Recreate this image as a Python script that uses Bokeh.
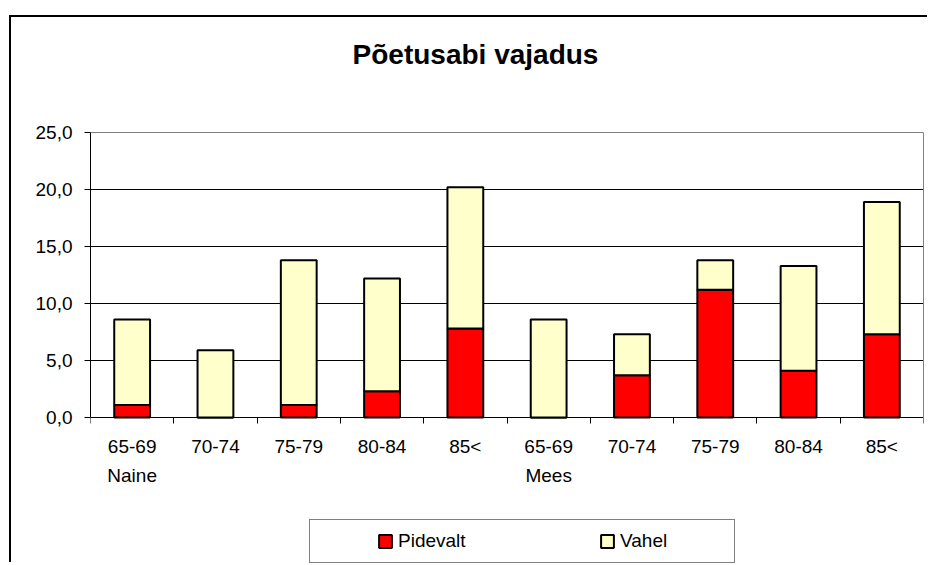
from bokeh.plotting import figure
from bokeh.models import (ColumnDataSource, Range1d, LinearAxis, FixedTicker, Grid,
                          CustomJSTickFormatter, Legend, LegendItem, Label)
from bokeh.core.properties import value
from bokeh.embed import file_html
from bokeh.resources import INLINE

# ---- data ----
title_text = "Põetusabi vajadus"
groups = ["Naine", "Mees"]
ages = ["65-69", "70-74", "75-79", "80-84", "85<"]
series = ["Pidevalt", "Vahel"]
pidevalt = [1.1, 0.0, 1.1, 2.3, 7.8, 0.0, 3.7, 11.2, 4.1, 7.3]
vahel = [7.5, 5.9, 12.7, 9.9, 12.4, 8.6, 3.6, 2.6, 9.2, 11.6]
y_ticks = [0, 5, 10, 15, 20, 25]
colors = ["#FF0000", "#FFFFCC"]

FONT = "Liberation Sans"

age_labels = [a for g in groups for a in ages]
grp_labels = [(g if a == ages[0] else "") for g in groups for a in ages]
n = len(age_labels)
xs = [i + 0.5 for i in range(n)]          # category centres on a linear scale
y_max = y_ticks[-1]

# layout (pixels)
W, H = 918, 547
MB_TOP, MB_BOT, MB_LEFT, MB_RIGHT = 20, 0, 79, 6
PX_PER_UNIT = 285 / y_max                  # plot area 285 px tall
ZERO_FROM_BOTTOM = 147                      # px from frame bottom to value 0
frame_h = H - MB_TOP - MB_BOT
y_start = -ZERO_FROM_BOTTOM / PX_PER_UNIT
y_end = (frame_h - ZERO_FROM_BOTTOM) / PX_PER_UNIT

source = ColumnDataSource(dict(x=xs, pidevalt=pidevalt, vahel=vahel,
                               age=age_labels, grp=grp_labels, zero=[0] * n))

p = figure(width=W, height=H, output_backend="svg", toolbar_location=None, tools="",
           x_range=Range1d(0, n), y_range=Range1d(y_start, y_end),
           x_axis_location=None,
           min_border_left=MB_LEFT, min_border_right=MB_RIGHT,
           min_border_top=MB_TOP, min_border_bottom=MB_BOT)
p.margin = (17, 0, 0, 11)
p.styles = {"box-shadow": "-2px -2px 0 0 #000000"}
p.background_fill_color = "white"
p.border_fill_color = "white"
p.outline_line_color = None

# grid: black inner lines, grey plot-area border at top
p.xgrid.visible = False
p.ygrid.ticker = FixedTicker(ticks=y_ticks[1:-1])
p.ygrid.grid_line_color = "black"
p.ygrid.grid_line_width = 1
top_grid = Grid(dimension=1, ticker=FixedTicker(ticks=[y_max]), grid_line_color="#808080")
p.add_layout(top_grid)

# y axis
yax = p.yaxis[0]
yax.bounds = (0, y_max)
yax.ticker = FixedTicker(ticks=y_ticks)
yax.formatter = CustomJSTickFormatter(code="return tick.toFixed(1).replace('.', ',');")
yax.major_label_text_font = FONT
yax.major_label_text_font_size = "19px"
yax.major_label_text_color = "black"
yax.axis_line_color = "black"
yax.major_tick_line_color = "black"
yax.major_tick_out = 6
yax.major_tick_in = 0
yax.minor_tick_out = 0
yax.minor_tick_in = 0
yax.major_label_standoff = 12

# grey right border of the plot area
right_ax = LinearAxis(bounds=(0, y_max), ticker=FixedTicker(ticks=[]),
                      axis_line_color="#808080", major_tick_out=0, major_tick_in=0,
                      minor_tick_out=0, minor_tick_in=0,
                      major_label_text_font_size="1px", major_label_standoff=0)
p.add_layout(right_ax, "right")

# x axis line with boundary ticks, drawn at value 0
tick_ax = LinearAxis(ticker=FixedTicker(ticks=list(range(n + 1))), fixed_location=0,
                     major_tick_out=0, major_tick_in=6, minor_tick_out=0, minor_tick_in=0,
                     axis_line_color="black", major_tick_line_color="black",
                     major_label_text_font_size="1px", major_label_text_alpha=0,
                     major_label_standoff=0)
p.add_layout(tick_ax, "above")

# bars
rs = p.vbar_stack(["pidevalt", "vahel"], x="x", width=0.43, source=source,
                  fill_color=colors, line_color="black", line_width=2)

# category labels (two rows) under the axis
p.text(x="x", y="zero", text="age", source=source, y_offset=29,
       text_font=value(FONT), text_font_size="19px", text_color="black",
       text_align="center", text_baseline="middle")
p.text(x="x", y="zero", text="grp", source=source, y_offset=58,
       text_font=value(FONT), text_font_size="19px", text_color="black",
       text_align="center", text_baseline="middle")

# title (screen units from the frame's bottom-left)
p.title.visible = False
title = Label(x=385, y=510, x_units="screen", y_units="screen",
              text=title_text, text_font=FONT, text_font_size="28px",
              text_font_style="bold", text_color="black",
              text_align="center", text_baseline="middle")
p.add_layout(title)

# legend; blank left title gives the left inset inside the box
leg = Legend(items=[LegendItem(label=series[i], renderers=[rs[i]]) for i in range(2)],
             location=(219, 1), orientation="horizontal", padding=10, margin=0,
             title=" ", title_location="left", title_standoff=56,
             title_text_font_size="1px",
             spacing=97, glyph_width=16, glyph_height=16, label_width=104, label_height=16,
             label_standoff=5, border_line_color="black", border_line_width=1,
             background_fill_color="white", background_fill_alpha=1,
             label_text_font=FONT, label_text_font_size="19px", label_text_color="black")
p.add_layout(leg, "center")

open("out.html", "w").write(file_html(p, INLINE))
